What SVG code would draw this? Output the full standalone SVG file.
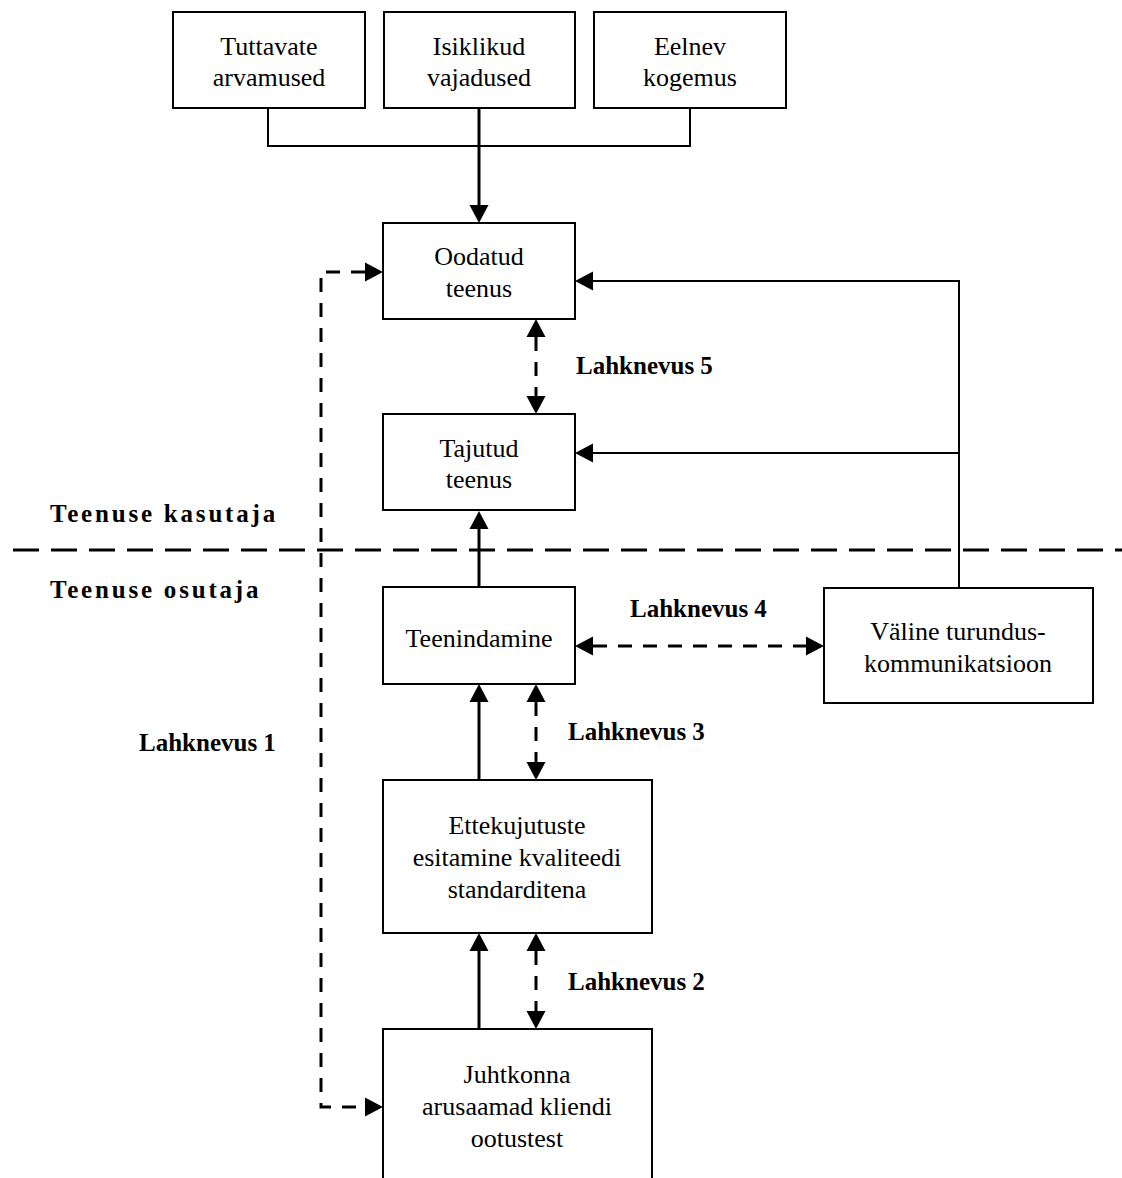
<svg xmlns="http://www.w3.org/2000/svg" width="1122" height="1178" viewBox="0 0 1122 1178">
  <style>
    .box { fill: #fff; stroke: #000; stroke-width: 2; }
    .t { font-family: "Liberation Serif", "Times New Roman", serif; font-size: 26px; text-anchor: middle; fill: #000; }
    .b { font-family: "Liberation Serif", "Times New Roman", serif; font-size: 25px; font-weight: bold; fill: #000; }
    .side { letter-spacing: 2.8px; }
    .thin { fill: none; stroke: #000; stroke-width: 2; }
    .thick { fill: none; stroke: #000; stroke-width: 3; }
    .dash { fill: none; stroke: #000; stroke-width: 3; stroke-dasharray: 14 11; }
    .sep { fill: none; stroke: #000; stroke-width: 3; stroke-dasharray: 26 12; }
  </style>
  <defs>
    <marker id="arrow" markerUnits="userSpaceOnUse" markerWidth="18" markerHeight="19" refX="0" refY="9.5" orient="auto-start-reverse" overflow="visible">
      <path d="M0,0 L18,9.5 L0,19 Z" fill="#000"/>
    </marker>
  </defs>
  <rect width="1122" height="1178" fill="#fff"/>

  <!-- side labels and divider -->
  <g id="divider">
    <path class="sep" d="M13,550 H1122"/>
    <text class="b side" x="50" y="522">Teenuse kasutaja</text>
    <text class="b side" x="50" y="598">Teenuse osutaja</text>
  </g>

  <!-- connectors -->
  <g id="connectors">
    <path class="thin" d="M268,108 V146 H690 V108"/>
    <path class="thick" d="M479,108 V205" marker-end="url(#arrow)"/>
    <path class="thin" d="M959,588 V281 H593" marker-end="url(#arrow)"/>
    <path class="thin" d="M959,453 H593" marker-end="url(#arrow)"/>
    <path class="thick" d="M479,587 V529" marker-end="url(#arrow)"/>
    <path class="thick" d="M479,780 V702" marker-end="url(#arrow)"/>
    <path class="thick" d="M479,1029 V951" marker-end="url(#arrow)"/>
    <path class="dash" d="M536,337 V396" marker-start="url(#arrow)" marker-end="url(#arrow)"/>
    <path class="dash" d="M536,702 V762" marker-start="url(#arrow)" marker-end="url(#arrow)"/>
    <path class="dash" d="M536,951 V1011" marker-start="url(#arrow)" marker-end="url(#arrow)"/>
    <path class="dash" d="M593,646 H806" marker-start="url(#arrow)" marker-end="url(#arrow)"/>
    <path class="dash" d="M365,272 H321 V1107 H365" marker-start="url(#arrow)" marker-end="url(#arrow)"/>
    <text class="b" x="576" y="374">Lahknevus 5</text>
    <text class="b" x="630" y="617">Lahknevus 4</text>
    <text class="b" x="568" y="740">Lahknevus 3</text>
    <text class="b" x="568" y="990">Lahknevus 2</text>
    <text class="b" x="139" y="751">Lahknevus 1</text>
  </g>

  <!-- nodes -->
  <g id="tuttavate">
    <rect class="box" x="173" y="12" width="192" height="96"/>
    <text class="t" x="269" y="55">Tuttavate</text>
    <text class="t" x="269" y="86">arvamused</text>
  </g>
  <g id="isiklikud">
    <rect class="box" x="384" y="12" width="191" height="96"/>
    <text class="t" x="479" y="55">Isiklikud</text>
    <text class="t" x="479" y="86">vajadused</text>
  </g>
  <g id="eelnev">
    <rect class="box" x="594" y="12" width="192" height="96"/>
    <text class="t" x="690" y="55">Eelnev</text>
    <text class="t" x="690" y="86">kogemus</text>
  </g>
  <g id="oodatud">
    <rect class="box" x="383" y="223" width="192" height="96"/>
    <text class="t" x="479" y="265">Oodatud</text>
    <text class="t" x="479" y="297">teenus</text>
  </g>
  <g id="tajutud">
    <rect class="box" x="383" y="414" width="192" height="96"/>
    <text class="t" x="479" y="457">Tajutud</text>
    <text class="t" x="479" y="488">teenus</text>
  </g>
  <g id="teenindamine">
    <rect class="box" x="383" y="587" width="192" height="97"/>
    <text class="t" x="479" y="647">Teenindamine</text>
  </g>
  <g id="valine">
    <rect class="box" x="824" y="588" width="269" height="115"/>
    <text class="t" x="958" y="640">Väline turundus-</text>
    <text class="t" x="958" y="672">kommunikatsioon</text>
  </g>
  <g id="ettekujutuste">
    <rect class="box" x="383" y="780" width="269" height="153"/>
    <text class="t" x="517" y="834">Ettekujutuste</text>
    <text class="t" x="517" y="866">esitamine kvaliteedi</text>
    <text class="t" x="517" y="898">standarditena</text>
  </g>
  <g id="juhtkonna">
    <rect class="box" x="383" y="1029" width="269" height="170"/>
    <text class="t" x="517" y="1083">Juhtkonna</text>
    <text class="t" x="517" y="1115">arusaamad kliendi</text>
    <text class="t" x="517" y="1147">ootustest</text>
  </g>
</svg>
